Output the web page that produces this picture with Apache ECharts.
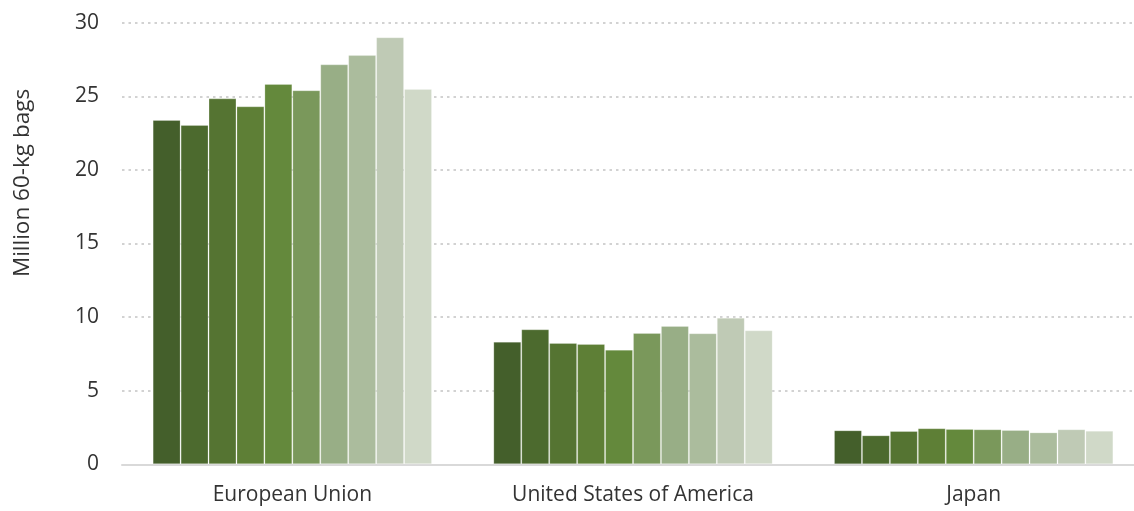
<!DOCTYPE html>
<html>
<head>
<meta charset="utf-8">
<script src="https://cdn.jsdelivr.net/npm/echarts@6/dist/echarts.min.js"></script>
<style>
html,body{margin:0;padding:0;background:#fff;}
#chart{width:1134px;height:511px;}
</style>
</head>
<body>
<div id="chart"></div>
<script>
const categories = ['European Union', 'United States of America', 'Japan'];
const seriesNames = ['S1','S2','S3','S4','S5','S6','S7','S8','S9','S10'];
// values per series: [EU, USA, Japan]
const s1  = [23.39, 8.33, 2.31];
const s2  = [23.05, 9.17, 1.97];
const s3  = [24.86, 8.24, 2.26];
const s4  = [24.32, 8.17, 2.45];
const s5  = [25.84, 7.79, 2.40];
const s6  = [25.41, 8.92, 2.38];
const s7  = [27.17, 9.40, 2.33];
const s8  = [27.80, 8.90, 2.17];
const s9  = [29.01, 9.96, 2.38];
const s10 = [25.50, 9.10, 2.28];
const seriesValues = [s1, s2, s3, s4, s5, s6, s7, s8, s9, s10];
const yTicks = [0, 5, 10, 15, 20, 25, 30];
const yAxisTitle = 'Million 60-kg bags';

const colors = ['#445f2b','#4c6a2e','#557432','#5e7f36','#64893c','#7a985b','#98ae86','#abbc9d','#bfcab5','#d0d9c8'];
const FONT = 'Open Sans';

const chart = echarts.init(document.getElementById('chart'), null, {renderer: 'canvas'});
chart.setOption({
  animation: false,
  color: colors,
  textStyle: {fontFamily: FONT},
  grid: {left: 122, top: 22.7, width: 1022, height: 441.6, containLabel: false, outerBoundsMode: 'none'},
  xAxis: {
    type: 'category',
    data: categories,
    axisTick: {show: false},
    axisLine: {show: true, lineStyle: {color: '#d9d9d9', width: 2}},
    axisLabel: {fontFamily: FONT, fontSize: 21, color: '#333', margin: 20}
  },
  yAxis: {
    type: 'value',
    min: yTicks[0],
    max: yTicks[yTicks.length - 1],
    interval: 5,
    axisLine: {show: false},
    axisTick: {show: false},
    axisLabel: {fontFamily: FONT, fontSize: 21, color: '#333', margin: 23},
    splitLine: {show: true, lineStyle: {color: '#d2d2d2', width: 2, type: [2.5, 4]}}
  },
  graphic: [{
    type: 'text',
    x: 23, y: 183,
    rotation: Math.PI / 2,
    style: {
      text: yAxisTitle,
      fontFamily: FONT, fontSize: 22.5, fill: '#333',
      textAlign: 'center', textVerticalAlign: 'middle'
    }
  }],
  series: seriesValues.map((vals, i) => ({
    name: seriesNames[i],
    type: 'bar',
    data: vals,
    barGap: '0%',
    barCategoryGap: '18%',
    itemStyle: {borderColor: 'rgba(255,255,255,0.22)', borderWidth: 1}
  }))
});
</script>
</body>
</html>
